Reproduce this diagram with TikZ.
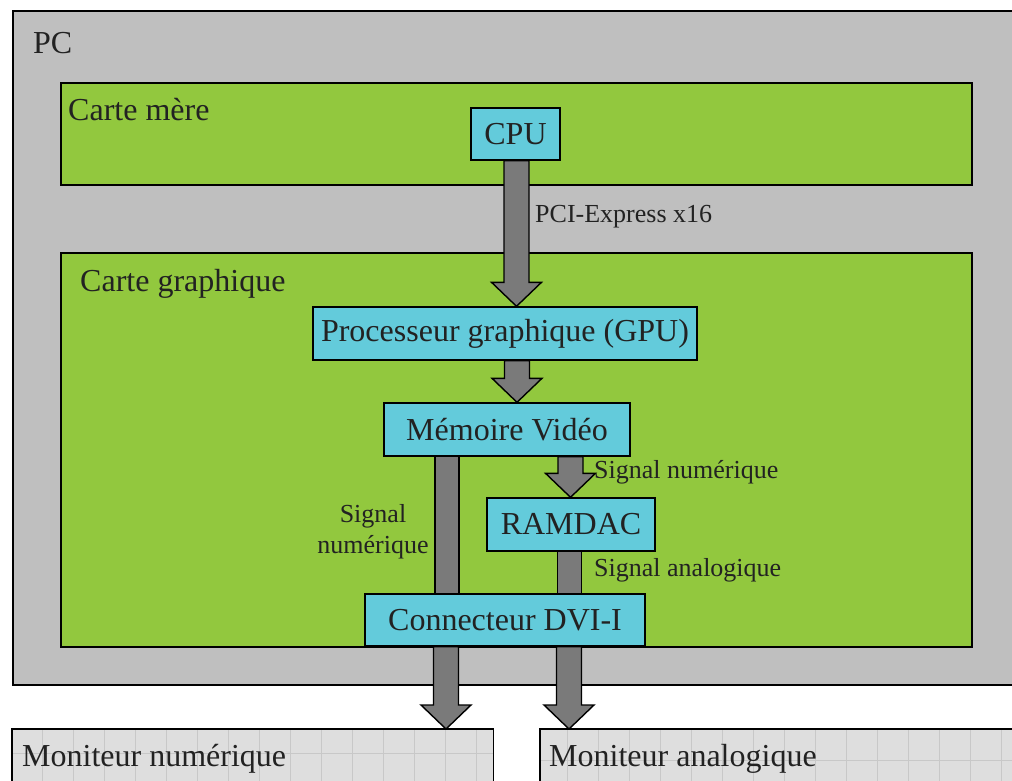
\documentclass[tikz,border=0pt]{standalone}
\usepackage{fontspec}
\setmainfont{Liberation Serif}
\usetikzlibrary{calc}
\definecolor{pcgray}{HTML}{BFBFBF}
\definecolor{boardgreen}{HTML}{92C83E}
\definecolor{chipcyan}{HTML}{63CBDB}
\definecolor{arrowgray}{HTML}{7A7A7A}
\definecolor{txt}{HTML}{222222}
\definecolor{monfill}{HTML}{DEDEDE}
\definecolor{mongrid}{HTML}{C8C8C8}
\tikzset{
  container/.style={draw=black, line width=1.6pt, anchor=north west, inner sep=0pt},
  chip/.style={draw=black, line width=1.4pt, fill=chipcyan, inner sep=0pt, text=txt,
    font=\fontsize{32}{38}\selectfont},
  title/.style={anchor=west, inner sep=0pt, text=txt, font=\fontsize{32}{38}\selectfont},
  lab/.style={inner sep=0pt, text=txt, font=\fontsize{26}{31}\selectfont},
  barr/.style={draw=black, line width=1.4pt, fill=arrowgray},
  gridline/.style={draw=mongrid, line width=1pt},
}
\newcommand\blockarrow[3]{%
  \draw[barr] let \p1=(#2), \p2=(#3) in
   (#1pt-12.5pt,\y1) -- (#1pt-12.5pt,\y2+24pt) -- (#1pt-25pt,\y2+24pt) -- (#1pt,\y2)
   -- (#1pt+25pt,\y2+24pt) -- (#1pt+12.5pt,\y2+24pt) -- (#1pt+12.5pt,\y1) -- cycle;}
\newcommand\blockbar[3]{%
  \draw[barr] let \p1=(#2), \p2=(#3) in
   (#1pt-12pt,\y1) rectangle (#1pt+12pt,\y2);}
\begin{document}
\begin{tikzpicture}[x=1pt,y=-1pt]
\clip (0,0) rectangle (1012,780);
\fill[white] (0,0) rectangle (1012,780);
% containers
\node[container, fill=pcgray, minimum width=1010, minimum height=674] (pc) at (12,10) {};
\node[container, fill=boardgreen, minimum width=911, minimum height=102] (mb) at (60,82) {};
\node[container, fill=boardgreen, minimum width=911, minimum height=394] (gc) at (60,252) {};
% monitors
\node[container, draw=none, fill=monfill, minimum width=480, minimum height=80] (mnum) at (12,729) {};
\node[container, draw=none, fill=monfill, minimum width=490, minimum height=80] (mana) at (540,729) {};
\begin{scope}
  \clip (mnum.north west) rectangle (mnum.south east);
  \foreach \i in {0,...,16} \draw[gridline] (42+31*\i,700) -- (42+31*\i,800);
  \draw[gridline] (0,753) -- (520,753);
\end{scope}
\begin{scope}
  \clip (mana.north west) rectangle (mana.south east);
  \foreach \i in {0,...,16} \draw[gridline] (567+31*\i,700) -- (567+31*\i,800);
  \draw[gridline] (530,760) -- (1030,760);
\end{scope}
\draw[line width=1.6pt] (mnum.north west) rectangle (mnum.south east);
\draw[line width=1.6pt] (mana.north west) rectangle (mana.south east);
% titles
\node[title] (tpc) at (33,43) {PC};
\node[title] (tmb) at (68,110) {Carte mère};
\node[title] (tgc) at (80,284) {Carte graphique};
\node[title] (tmn) at (22,759) {Moniteur numérique};
\node[title] (tma) at (549,759) {Moniteur analogique};
% chips
\node[chip, minimum width=89, minimum height=52] (cpu) at (515.5,134) {CPU};
\node[chip, minimum width=384, minimum height=53] (gpu) at (505,333.5) {Processeur graphique (GPU)};
\node[chip, minimum width=246, minimum height=53] (mem) at (507,429.5) {Mémoire Vidéo};
\node[chip, minimum width=168, minimum height=53] (ramdac) at (571,524.5) {RAMDAC};
\node[chip, minimum width=280, minimum height=52] (dvi) at (505,620) {Connecteur DVI-I};
% arrows
\blockarrow{516.5}{cpu.south}{gpu.north}
\blockarrow{517}{gpu.south}{mem.north}
\blockarrow{570.5}{mem.south}{ramdac.north}
\blockbar{447}{mem.south}{dvi.north}
\blockbar{569.5}{ramdac.south}{dvi.north}
\blockarrow{446}{dvi.south}{mnum.north}
\blockarrow{569}{dvi.south}{mana.north}
% labels
\node[lab, anchor=west] (lpci) at (535,217) {PCI-Express x16};
\node[lab, anchor=west] (lsn1) at (594,472) {Signal numérique};
\node[lab, align=center] (lsn2) at (373,532) {Signal\\numérique};
\node[lab, anchor=west] (lsa) at (594,570) {Signal analogique};
\end{tikzpicture}
\end{document}
